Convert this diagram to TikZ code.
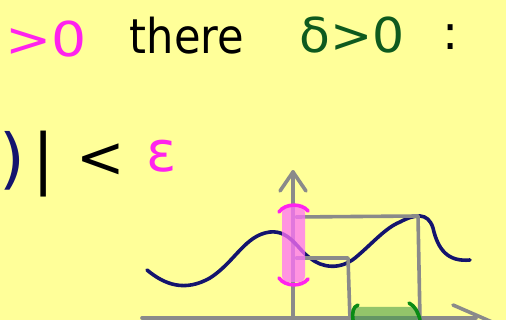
\documentclass[tikz,border=0pt]{standalone}
\usepackage{fontspec}
\setmainfont{DejaVu Sans}
\usetikzlibrary{arrows.meta}

\definecolor{bgyellow}{HTML}{FFFF99}
\definecolor{epspink}{HTML}{FF22EE}
\definecolor{deltagreen}{HTML}{0E5A1E}
\definecolor{curvenavy}{HTML}{14146E}
\definecolor{axisgray}{HTML}{8A8A8A}

\begin{document}
\begin{tikzpicture}[
x=1pt, y=-1pt,
word/.style={inner sep=0pt, anchor=base, font=\fontsize{48}{48}\selectfont},
tall/.style={inner sep=0pt, anchor=base, font=\fontsize{66}{66}\selectfont},
axis/.style={axisgray, line width=3.6pt, line cap=round, line join=round},
graph/.style={curvenavy, line width=3.6pt, line cap=round},
band/.style={rounded corners=6pt, opacity=0.75},
bracket/.style={line width=3.6pt, line cap=round}
]

\fill[bgyellow] (0,0) rectangle (506,320);
\useasboundingbox (0,0) rectangle (506,320);

% first line of the definition
\node[word, text=epspink, xscale=1.15] (epsgt) at (46,57) {>0};
\node[word, xscale=0.9] (there) at (187,54) {there};
\node[word, text=deltagreen, xscale=1.05] (delta) at (352,53) {δ>0};
\node[word] (colon) at (451,50) {:};

% second line
\node[tall, text=curvenavy, font=\fontsize{66}{66}\selectfont\mdseries] (paren) at (12,182) {)};
\node[tall] (bar) at (44,182) {|};
\node[word, font=\fontsize{58}{58}\selectfont] (less) at (101,178) {<};
\node[word, font=\fontsize{56}{56}\selectfont] at (162,172) [text=epspink] (eps) {ε};

% axes
\coordinate (origin) at (293,318);
\coordinate (ytip) at (293,172);
\coordinate (xleft) at (142,318);
\coordinate (xright) at (476,318);
\draw[axis] (xleft) -- (xright);
\draw[axis] (origin) -- (ytip);
\draw[axis] (280,191) -- (ytip) -- (306,191);
\draw[axis] (453,305) -- (492,322);

% the function
\draw[graph] (147,270) .. controls (165,285) and (185,292) .. (210,278)
  .. controls (235,262) and (245,235) .. (270,232)
  .. controls (290,230) and (298,250) .. (310,258)
  .. controls (322,268) and (340,270) .. (355,258)
  .. controls (372,244) and (385,228) .. (400,222)
  .. controls (415,214) and (428,212) .. (433,228)
  .. controls (438,250) and (448,262) .. (470,260);

% levels and drop lines
\coordinate (hi) at (296,217);
\coordinate (hicorner) at (418,216);
\coordinate (hifoot) at (420,320);
\coordinate (lo) at (296,258);
\coordinate (locorner) at (348,258);
\coordinate (lofoot) at (350,320);
\draw[axis] (hi) -- (hicorner) -- (hifoot);
\draw[axis] (lo) -- (locorner) -- (lofoot);

% epsilon band on the y-axis
\fill[band, fill=epspink!55!magenta!60] (282,207) rectangle (305,282);
\draw[bracket, epspink] (279,212) .. controls (285,203) and (302,203) .. (308,211);
\draw[bracket, epspink] (279,278) .. controls (285,287) and (302,287) .. (308,279);

% delta band on the x-axis
\fill[band, fill=green!45!black!70, opacity=0.6] (352,307) rectangle (418,322);
\draw[bracket, deltagreen!70!green] (358,305) .. controls (353,307) and (352,312) .. (353,320);
\draw[bracket, deltagreen!70!green] (409,303) .. controls (415,306) and (418,312) .. (420,320);

\end{tikzpicture}
\end{document}
